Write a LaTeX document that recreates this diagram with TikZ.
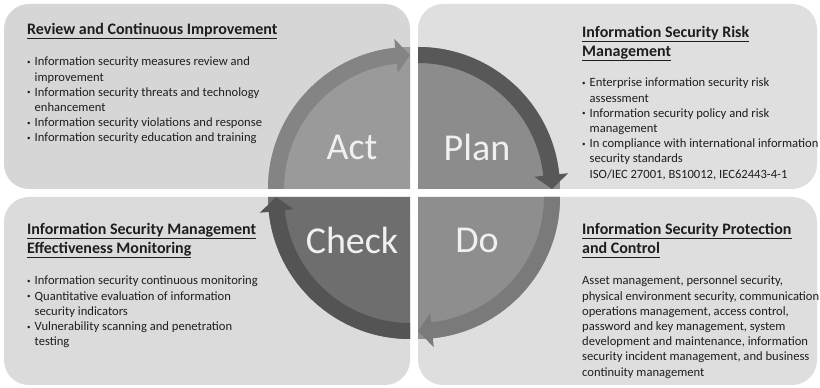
\documentclass[tikz,border=0pt]{standalone}
\usepackage{fontspec}
\setmainfont{Carlito}

\definecolor{inkgray}{HTML}{1E1E1E}
\definecolor{panelA}{HTML}{D6D6D6}
\definecolor{panelB}{HTML}{DFDFDF}
\definecolor{panelC}{HTML}{DBDBDB}
\definecolor{panelD}{HTML}{DEDEDE}
\definecolor{actfill}{HTML}{9A9A9A}
\definecolor{actband}{HTML}{848484}
\definecolor{planfill}{HTML}{8C8C8C}
\definecolor{planband}{HTML}{585858}
\definecolor{dofill}{HTML}{8E8E8E}
\definecolor{doband}{HTML}{7A7A7A}
\definecolor{checkfill}{HTML}{6E6E6E}
\definecolor{checkband}{HTML}{545454}

% Bullet, hanging indent and underlined panel titles
\newcommand{\bul}{\makebox[7.5pt][l]{\raisebox{1.5pt}{\fontsize{7}{7}\selectfont\textbullet}}}
\newcommand{\ind}{\hspace*{7.5pt}}
\newcommand{\boxtitle}[1]{\setbox0\hbox{#1}\rlap{\rule[-4.3pt]{\wd0}{1pt}}\box0}

\begin{document}
\begin{tikzpicture}[x=1pt, y=1pt]

        % Styles
        \tikzstyle{panel} = [rounded corners=25pt]
        \tikzstyle{heading} = [anchor=north west, inner sep=0pt, align=left, text=inkgray, font=\fontsize{16}{19.5}\selectfont\bfseries]
        \tikzstyle{body} = [anchor=north west, inner sep=0pt, align=left, text=inkgray, font=\fontsize{12.6}{15.2}\selectfont]
        \tikzstyle{phase} = [text=white!94!black, font=\fontsize{38}{38}\selectfont]

        \useasboundingbox (0,0) rectangle (820,388);
        \fill[white] (0,0) rectangle (820,388);

        % Background panels
        \fill[panel, panelA] (4,199) rectangle (410,384);
        \fill[panel, panelB] (418,199) rectangle (817,384);
        \fill[panel, panelC] (4,3) rectangle (410,191);
        \fill[panel, panelD] (418,3) rectangle (817,191);

        % Act quarter (top left)
        \begin{scope}[shift={(410,199)}]
            \fill[actfill] (0,0) -- (180:142) arc (180:90:142) -- cycle;
            \fill[actband] (180:142) arc (180:96:142) -- (96:151) -- (90:134) -- (96:117) -- (96:126) arc (96:180:126) -- cycle;
        \end{scope}

        % Plan quarter (top right)
        \begin{scope}[shift={(418,199)}]
            \fill[planfill] (0,0) -- (90:142) arc (90:0:142) -- cycle;
            \fill[planband] (90:142) arc (90:6:142) -- (6:151) -- (0:134) -- (6:117) -- (6:126) arc (6:90:126) -- cycle;
        \end{scope}

        % Do quarter (bottom right)
        \begin{scope}[shift={(418,191)}]
            \fill[dofill] (0,0) -- (0:142) arc (0:-90:142) -- cycle;
            \fill[doband] (0:142) arc (0:-84:142) -- (-84:151) -- (-90:134) -- (-84:117) -- (-84:126) arc (-84:0:126) -- cycle;
        \end{scope}

        % Check quarter (bottom left)
        \begin{scope}[shift={(410,191)}]
            \fill[checkfill] (0,0) -- (-90:142) arc (-90:-180:142) -- cycle;
            \fill[checkband] (-90:142) arc (-90:-174:142) -- (-174:151) -- (-180:134) -- (-174:117) -- (-174:126) arc (-174:-90:126) -- cycle;
        \end{scope}

        % Phase names
        \node[phase] (act) at (352,241) {Act};
        \node[phase] (plan) at (477,241) {Plan};
        \node[phase] (do) at (477,148) {Do};
        \node[phase] (check) at (352,148) {Check};

        % Act panel text
        \node[heading] (acttitle) at (27,365) {\boxtitle{Review and Continuous Improvement}};
        \node[body] (actlist) at (27,331) {\bul Information security measures review and\\
            \ind improvement\\
            \bul Information security threats and technology\\
            \ind enhancement\\
            \bul Information security violations and response\\
            \bul Information security education and training};

        % Plan panel text
        \node[heading] (plantitle) at (582,362) {\boxtitle{Information Security Risk}\\\boxtitle{Management}};
        \node[body] (planlist) at (582,310) {\bul Enterprise information security risk\\
            \ind assessment\\
            \bul Information security policy and risk\\
            \ind management\\
            \bul In compliance with international information\\
            \ind security standards\\
            \ind ISO/IEC 27001, BS10012, IEC62443-4-1};

        % Check panel text
        \node[heading] (checktitle) at (27,165) {\boxtitle{Information Security Management}\\\boxtitle{Effectiveness Monitoring}};
        \node[body] (checklist) at (27,112) {\bul Information security continuous monitoring\\
            \bul Quantitative evaluation of information\\
            \ind security indicators\\
            \bul Vulnerability scanning and penetration\\
            \ind testing};

        % Do panel text
        \node[heading] (dotitle) at (582,165) {\boxtitle{Information Security Protection}\\\boxtitle{and Control}};
        \node[body] (dotext) at (582,112) {Asset management, personnel security,\\
            physical environment security, communication\\
            operations management, access control,\\
            password and key management, system\\
            development and maintenance, information\\
            security incident management, and business\\
            continuity management};

\end{tikzpicture}
\end{document}
